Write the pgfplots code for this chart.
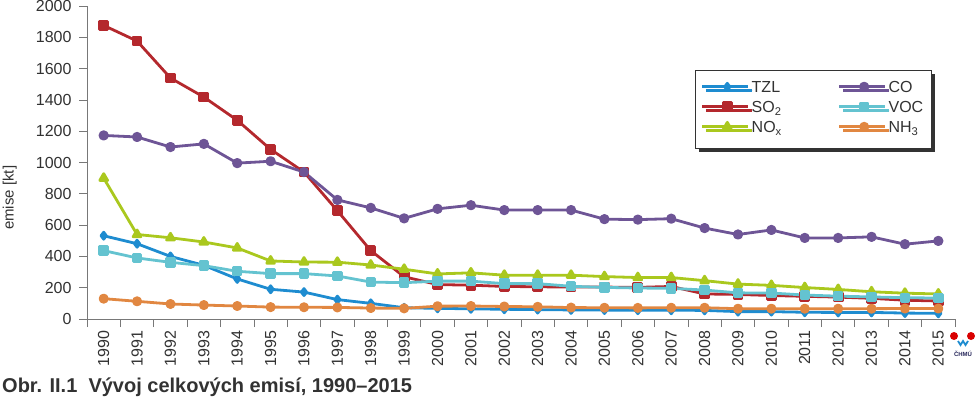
\documentclass[border=0pt]{standalone}
\usepackage{fontspec}
\setmainfont{Liberation Sans}
\usepackage{pgfplots}
\pgfplotsset{compat=1.18}
\usetikzlibrary{shadows}
\definecolor{ctzl}{RGB}{30,140,208}
\definecolor{cso}{RGB}{180,40,45}
\definecolor{cnox}{RGB}{170,200,30}
\definecolor{cco}{RGB}{110,85,150}
\definecolor{cvoc}{RGB}{100,195,208}
\definecolor{cnh}{RGB}{225,135,65}
\definecolor{axgrey}{RGB}{120,120,120}
\definecolor{txt}{RGB}{50,50,50}
\begin{document}
\begin{tikzpicture}
\path[use as bounding box] (-87pt,-78pt) rectangle (888pt,319pt);
\begin{axis}[
  scale only axis, width=868pt, height=313pt,
  xmin=1989.5, xmax=2015.5, ymin=0, ymax=2000,
  axis x line*=bottom, axis y line*=left,
  axis line style={draw=axgrey, line width=0.8pt, -},
  tick align=outside,
  major tick length=8pt, minor tick length=8pt,
  xtick={1990,...,2015},
  minor xtick={1989.5,1990.5,...,2015.5},
  major x tick style={draw=none},
  minor x tick style={draw=axgrey, line width=0.8pt},
  major y tick style={draw=axgrey, line width=0.8pt},
  ytick={0,200,...,2000},
  /pgf/number format/assume math mode=true,
  /pgf/number format/1000 sep={},
  tick label style={font=\fontsize{16}{18}\selectfont, text=txt},
  xticklabel style={rotate=90, anchor=east},
  yticklabel style={xshift=-4pt},
  every axis y label/.style={at={(axis description cs:-0.089,0.387)}, rotate=90, anchor=center, font=\fontsize{15}{17}\selectfont, text=txt},
  ylabel={emise [kt]},
  clip=false,
  legend columns=3, transpose legend,
  legend style={at={(0.700,0.797)}, anchor=north west, draw=black!80, line width=0.6pt, fill=white,
    drop shadow={shadow xshift=4pt, shadow yshift=-4pt, fill=black!80, opacity=1},
    inner xsep=6pt, inner ysep=9pt,
    font=\fontsize{16}{18}\selectfont, text=txt,
    nodes={text height=12pt, text depth=4pt, inner ysep=2pt, inner xsep=2pt},
    /tikz/every even column/.append style={column sep=54pt}},
  legend cell align=left,
  legend image code/.code={\path (-4pt,2pt) -- (42pt,2pt);\draw[mark repeat=2,mark phase=2] plot coordinates {(0pt,2pt) (21pt,2pt) (42pt,2pt)};},
  every axis plot/.append style={line width=2.8pt, line join=round},
]
\addplot[ctzl, mark=diamond*, mark size=3.5pt, mark options={solid}] coordinates {
(1990,532)(1991,481)(1992,400)(1993,343)(1994,256)(1995,190)(1996,172)(1997,124)(1998,100)(1999,72)
(2000,68)(2001,65)(2002,62)(2003,60)(2004,58)(2005,57)(2006,56)(2007,56)(2008,55)(2009,47)
(2010,47)(2011,43)(2012,42)(2013,42)(2014,38)(2015,36)};
\addlegendentry{TZL}
\addplot[cso, mark=square*, mark size=4pt] coordinates {
(1990,1876)(1991,1776)(1992,1540)(1993,1418)(1994,1270)(1995,1084)(1996,939)(1997,692)(1998,437)(1999,270)
(2000,220)(2001,216)(2002,208)(2003,206)(2004,204)(2005,204)(2006,202)(2007,208)(2008,160)(2009,157)
(2010,150)(2011,145)(2012,140)(2013,132)(2014,120)(2015,115)};
\addlegendentry{SO\textsubscript{2}}
\addplot[cnox, mark=triangle*, mark size=4.5pt] coordinates {
(1990,900)(1991,540)(1992,519)(1993,492)(1994,454)(1995,371)(1996,364)(1997,363)(1998,345)(1999,318)
(2000,288)(2001,295)(2002,280)(2003,280)(2004,280)(2005,271)(2006,265)(2007,265)(2008,245)(2009,223)
(2010,215)(2011,201)(2012,189)(2013,174)(2014,165)(2015,160)};
\addlegendentry{NO\textsubscript{x}}
\addplot[cco, mark=*, mark size=3.7pt] coordinates {
(1990,1173)(1991,1163)(1992,1099)(1993,1119)(1994,996)(1995,1008)(1996,939)(1997,761)(1998,710)(1999,643)
(2000,704)(2001,727)(2002,696)(2003,696)(2004,696)(2005,638)(2006,635)(2007,641)(2008,581)(2009,540)
(2010,569)(2011,518)(2012,518)(2013,525)(2014,478)(2015,499)};
\addlegendentry{CO}
\addplot[cvoc, mark=square*, mark size=3.8pt] coordinates {
(1990,437)(1991,390)(1992,362)(1993,341)(1994,305)(1995,290)(1996,290)(1997,275)(1998,236)(1999,232)
(2000,242)(2001,242)(2002,226)(2003,226)(2004,209)(2005,202)(2006,198)(2007,196)(2008,185)(2009,167)
(2010,166)(2011,153)(2012,146)(2013,141)(2014,136)(2015,134)};
\addlegendentry{VOC}
\addplot[cnh, mark=*, mark size=3.6pt] coordinates {
(1990,130)(1991,113)(1992,96)(1993,89)(1994,83)(1995,76)(1996,75)(1997,74)(1998,70)(1999,68)
(2000,82)(2001,83)(2002,80)(2003,78)(2004,73)(2005,72)(2006,71)(2007,72)(2008,72)(2009,66)
(2010,66)(2011,66)(2012,66)(2013,66)(2014,67)(2015,67)};
\addlegendentry{NH\textsubscript{3}}
\end{axis}
% logo
\fill[red!85!black] (867pt,-17pt) circle (4pt);
\fill[red!85!black] (884pt,-17pt) circle (4pt);
\draw[ctzl, line width=1.8pt] (871pt,-22pt) -- (873.5pt,-26pt) -- (876pt,-22pt) -- (878.5pt,-26pt) -- (881pt,-22pt);
\node[font=\fontsize{6}{7}\selectfont\bfseries, text=txt!80!blue, anchor=center] at (876pt,-35pt) {ČHMÚ};
% title
\node[anchor=base west, font=\fontsize{20}{24}\selectfont\bfseries, text=txt, inner sep=0pt] at (-85pt,-73pt) {Obr. II.1\ \ Vývoj celkových emisí, 1990–2015};
\end{tikzpicture}
\end{document}
